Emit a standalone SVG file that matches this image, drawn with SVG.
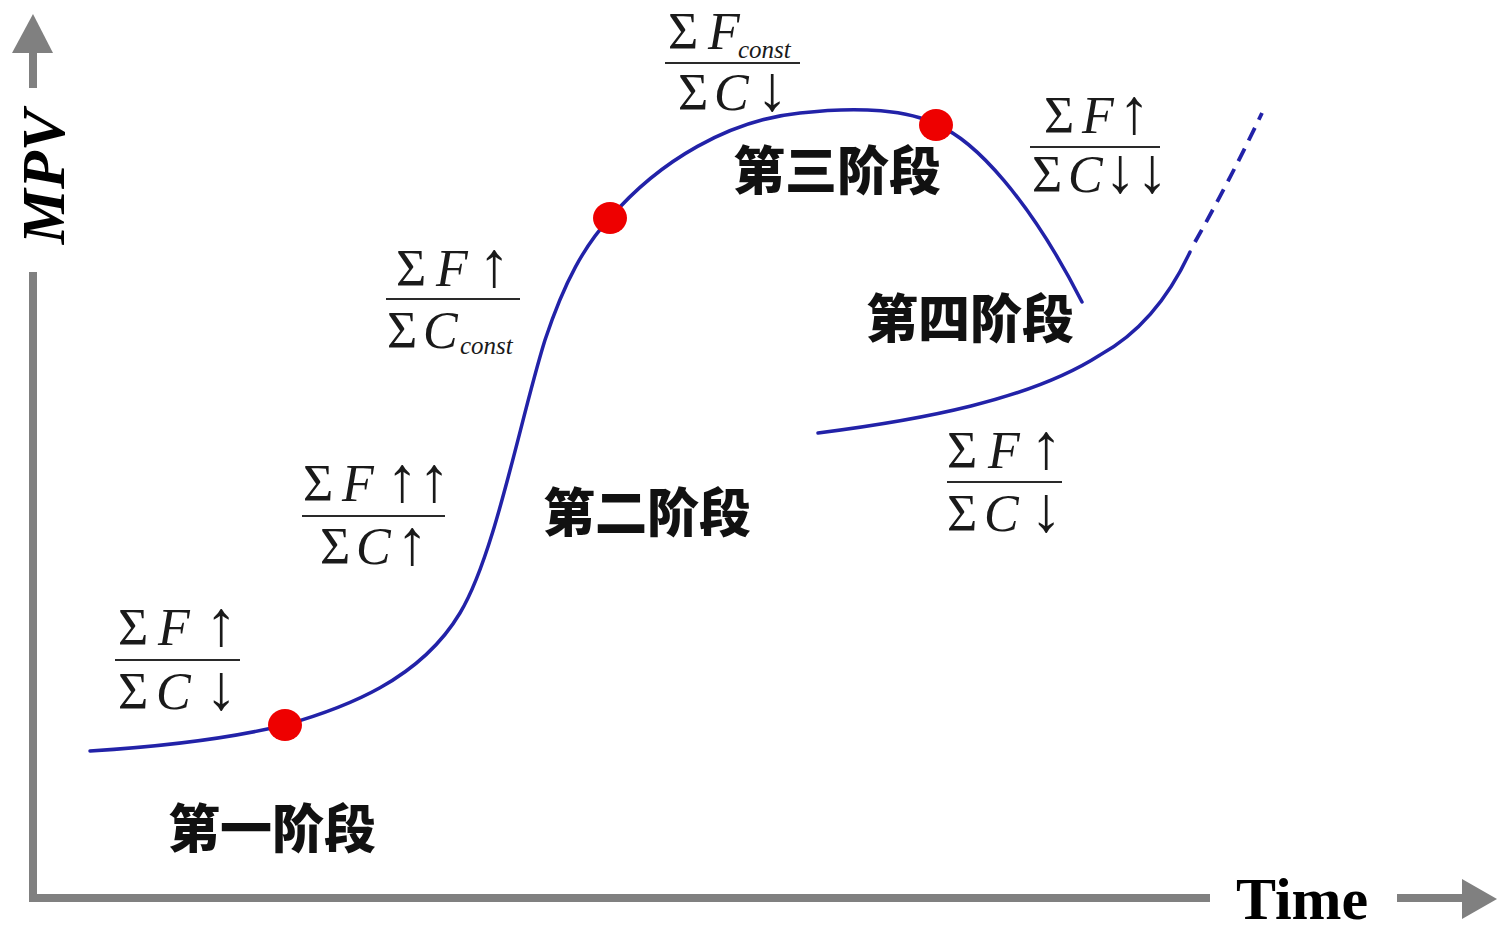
<svg xmlns="http://www.w3.org/2000/svg" width="1498" height="927" viewBox="0 0 1498 927">
<style>
.axis{stroke:#808080;stroke-width:8;fill:none}
.ahead{fill:#808080}
.curve{stroke:#2222a8;stroke-width:3.5;fill:none;stroke-linecap:round}
.dash{stroke:#2222a8;stroke-width:3.8;fill:none;stroke-dasharray:14 9}
.dot{fill:#ee0000}
.m{font-family:"Liberation Serif","DejaVu Serif",serif;font-size:52px;fill:#1a1a1a}
.i{font-style:italic}
.ar{font-size:64px}
.sub{font-size:25px;font-style:italic}
.bar{stroke:#2a2a2a;stroke-width:2}
.cn{font-family:"Noto Sans CJK SC","Noto Sans CJK JP",sans-serif;font-weight:900;font-size:52px;text-anchor:middle;fill:#111}
.lab{font-family:"Liberation Serif","Times New Roman",serif;font-weight:bold;fill:#000}
</style>
<rect width="1498" height="927" fill="#fff"/>

<g id="axes">
  <line class="axis" x1="33" y1="50" x2="33" y2="88"/>
  <line class="axis" x1="33" y1="272" x2="33" y2="899"/>
  <polygon class="ahead" points="12,53 53,53 33,14"/>
  <line class="axis" x1="29" y1="898" x2="1210" y2="898"/>
  <line class="axis" x1="1397" y1="898" x2="1466" y2="898"/>
  <polygon class="ahead" points="1462,879 1462,919 1497,899"/>
  <text class="lab" font-style="italic" font-size="62" text-anchor="middle" transform="translate(64,177) rotate(-90)">MPV</text>
  <text class="lab" font-size="60" x="1236" y="919">Time</text>
</g>

<g id="connectors">
  <path class="curve" d="M 90 751 C 170 746, 240 736, 285 725 C 345 708, 420 680, 460 613 C 495 555, 520 420, 545 340 C 565 280, 585 245, 610 218 C 660 160, 730 120, 800 113 C 860 106, 910 110, 937 125 C 975 140, 1030 200, 1082 302"/>
  <path class="curve" d="M 818 433 C 920 420, 1030 400, 1100 355 C 1140 333, 1170 295, 1190 252"/>
  <path class="dash" d="M 1195 242 Q 1230 180, 1262 113"/>
</g>

<g id="points">
  <ellipse class="dot" cx="285" cy="725" rx="17" ry="16"/>
  <ellipse class="dot" cx="610" cy="218" rx="17" ry="16"/>
  <ellipse class="dot" cx="936" cy="125" rx="17" ry="16"/>
</g>

<g id="stage1"><text class="cn" x="272" y="848">第一阶段</text></g>
<g id="stage2"><text class="cn" x="647" y="532">第二阶段</text></g>
<g id="stage3"><text class="cn" x="837" y="190">第三阶段</text></g>
<g id="stage4"><text class="cn" x="970" y="338">第四阶段</text></g>

<g id="frac1">
  <text class="m" y="645"><tspan x="118">Σ</tspan><tspan class="i" x="158">F</tspan><tspan class="ar" x="205">↑</tspan></text>
  <line class="bar" x1="115" y1="660" x2="240" y2="660"/>
  <text class="m" y="709"><tspan x="118">Σ</tspan><tspan class="i" x="156">C</tspan><tspan class="ar" x="205">↓</tspan></text>
</g>

<g id="frac2">
  <text class="m" y="501"><tspan x="303">Σ</tspan><tspan class="i" x="342">F</tspan><tspan class="ar" x="386">↑↑</tspan></text>
  <line class="bar" x1="302" y1="516" x2="445" y2="516"/>
  <text class="m" y="564"><tspan x="320">Σ</tspan><tspan class="i" x="356">C</tspan><tspan class="ar" x="396">↑</tspan></text>
</g>

<g id="frac3">
  <text class="m" y="286"><tspan x="396">Σ</tspan><tspan class="i" x="436">F</tspan><tspan class="ar" x="478">↑</tspan></text>
  <line class="bar" x1="386" y1="299" x2="520" y2="299"/>
  <text class="m" y="348"><tspan x="387">Σ</tspan><tspan class="i" x="423">C</tspan><tspan class="sub" x="460" y="354">const</tspan></text>
</g>

<g id="frac4">
  <text class="m" y="49"><tspan x="668">Σ</tspan><tspan class="i" x="708">F</tspan><tspan class="sub" x="738" y="58">const</tspan></text>
  <line class="bar" x1="665" y1="63" x2="800" y2="63"/>
  <text class="m" y="110"><tspan x="678">Σ</tspan><tspan class="i" x="714">C</tspan><tspan class="ar" x="756">↓</tspan></text>
</g>

<g id="frac5">
  <text class="m" y="133"><tspan x="1044">Σ</tspan><tspan class="i" x="1082">F</tspan><tspan class="ar" x="1118">↑</tspan></text>
  <line class="bar" x1="1030" y1="147" x2="1160" y2="147"/>
  <text class="m" y="192"><tspan x="1032">Σ</tspan><tspan class="i" x="1068">C</tspan><tspan class="ar" x="1104">↓↓</tspan></text>
</g>

<g id="frac6">
  <text class="m" y="468"><tspan x="947">Σ</tspan><tspan class="i" x="988">F</tspan><tspan class="ar" x="1030">↑</tspan></text>
  <line class="bar" x1="947" y1="482" x2="1062" y2="482"/>
  <text class="m" y="531"><tspan x="947">Σ</tspan><tspan class="i" x="984">C</tspan><tspan class="ar" x="1030">↓</tspan></text>
</g>
</svg>
